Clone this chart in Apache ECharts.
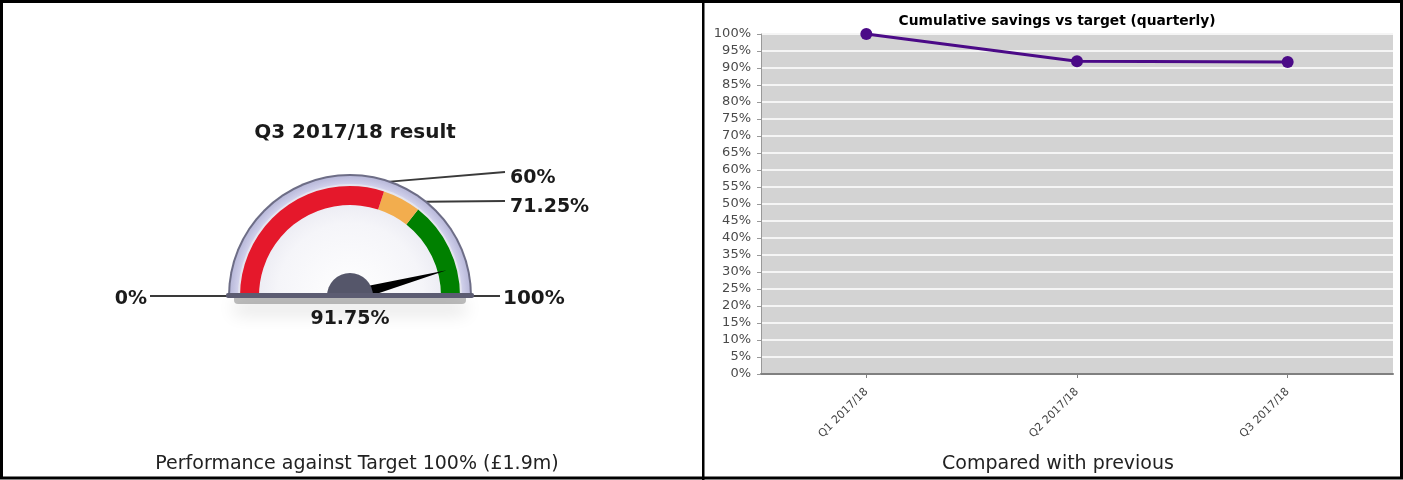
<!DOCTYPE html>
<html>
<head>
<meta charset="utf-8">
<script src="https://cdn.jsdelivr.net/npm/echarts@6/dist/echarts.min.js"></script>
<style>
  html, body { margin: 0; padding: 0; background: #fff; }
  #chart { width: 1403px; height: 480px; }
</style>
</head>
<body>
<div id="chart"></div>
<script>
// ---- data ----
const gaugeTitle = 'Q3 2017/18 result';
const gaugeMin = 0;
const gaugeMax = 100;
const gaugeValue = 91.75;
const bandStops = [60, 71.25, 100];
const bandColors = ['#e5182b', '#f2ad4e', '#008000'];
const gaugeCaption = 'Performance against Target 100% (£1.9m)';

const lineTitle = 'Cumulative savings vs target (quarterly)';
const categories = ['Q1 2017/18', 'Q2 2017/18', 'Q3 2017/18'];
const savings = [100, 92, 91.75];
const lineCaption = 'Compared with previous';

// ---- gauge geometry ----
const C = [350, 296];
const R_OUT = 122;

function pct(v) { return v + '%'; }

function arcPoint(v, r) {
  const a = Math.PI * (1 - (v - gaugeMin) / (gaugeMax - gaugeMin));
  return [C[0] + r * Math.cos(a), C[1] - r * Math.sin(a)];
}

function ring(radius, width, color, extra) {
  return Object.assign({
    type: 'gauge',
    center: C,
    radius: radius,
    startAngle: 180,
    endAngle: 0,
    min: gaugeMin,
    max: gaugeMax,
    axisLine: { show: true, lineStyle: { width: width, color: [[1, color]] } },
    axisTick: { show: false },
    splitLine: { show: false },
    axisLabel: { show: false },
    pointer: { show: false },
    anchor: { show: false },
    title: { show: false },
    detail: { show: false },
    data: [{ value: gaugeValue }]
  }, extra || {});
}

const faceGradient = new echarts.graphic.RadialGradient(0.5, 1, 1, [
  { offset: 0, color: '#ffffff' },
  { offset: 0.65, color: '#f5f5f9' },
  { offset: 1, color: '#e4e4ee' }
]);
const rimGradient = new echarts.graphic.RadialGradient(0.5, 1, 1, [
  { offset: 0.85, color: '#a9a9cf' },
  { offset: 0.93, color: '#d2d2ec' },
  { offset: 1, color: '#b9b9da' }
]);

const bandLine = bandStops.map((s, i) => [(s - gaugeMin) / (gaugeMax - gaugeMin), bandColors[i]]);

// leader lines and labels for thresholds
const labelFont = { fontFamily: 'DejaVu Sans', fontWeight: 'bold', fontSize: 19, fill: '#1a1a1a' };
const graphics = [];
const lineStyle = { stroke: '#3a3a3a', lineWidth: 2, fill: null };

// 0% and 100% ends
graphics.push({ type: 'polyline', shape: { points: [[150, C[1]], [C[0] - R_OUT, C[1]]] }, style: lineStyle });
graphics.push({ type: 'polyline', shape: { points: [[C[0] + R_OUT, C[1]], [500, C[1]]] }, style: lineStyle });
graphics.push({ type: 'text', x: 147, y: C[1] + 3, style: Object.assign({ text: pct(gaugeMin), textAlign: 'right', textVerticalAlign: 'middle' }, labelFont) });
graphics.push({ type: 'text', x: 503, y: C[1] + 3, style: Object.assign({ text: pct(gaugeMax), textAlign: 'left', textVerticalAlign: 'middle' }, labelFont, { fontSize: 20 }) });

// inner threshold stops
const stopLabelY = [172, 201];
bandStops.slice(0, 2).forEach((s, i) => {
  const p = arcPoint(s, R_OUT - 2);
  graphics.push({ type: 'polyline', shape: { points: [p, [505, stopLabelY[i]]] }, style: lineStyle });
  graphics.push({ type: 'text', x: 510, y: stopLabelY[i] + 6, style: Object.assign({ text: pct(s), textAlign: 'left', textVerticalAlign: 'middle' }, labelFont) });
});

// gauge base bar with soft drop shadow
graphics.push({
  type: 'rect', z: 1,
  shape: { x: C[0] - R_OUT + 6, y: C[1] - 2, width: 2 * R_OUT - 12, height: 10, r: 4 },
  style: { fill: 'rgba(0,0,0,0.25)', shadowBlur: 18, shadowColor: 'rgba(0,0,0,0.55)', shadowOffsetY: 9 }
});
graphics.push({
  type: 'rect', z: 10,
  shape: { x: C[0] - R_OUT - 2, y: C[1] - 3, width: 2 * R_OUT + 4, height: 5, r: 2 },
  style: { fill: '#5c5c72' }
});

// panel frames
graphics.push({ type: 'rect', z: 20, shape: { x: 1.5, y: 1.5, width: 1400, height: 476.5 }, style: { fill: null, stroke: '#000', lineWidth: 3 } });
graphics.push({ type: 'rect', z: 20, shape: { x: 702, y: 0, width: 2.5, height: 480 }, style: { fill: '#000' } });

const chart = echarts.init(document.getElementById('chart'), null, { renderer: 'canvas' });

const option = {
  animation: false,
  backgroundColor: '#ffffff',
  title: [
    { text: gaugeTitle, left: 350, top: 118, textAlign: 'center',
      textStyle: { fontFamily: 'DejaVu Sans', fontWeight: 'bold', fontSize: 20, color: '#1a1a1a' } },
    { text: lineTitle, left: 1052, top: 9, textAlign: 'center',
      textStyle: { fontFamily: 'DejaVu Sans', fontWeight: 'bold', fontSize: 13.8, color: '#000' } },
    { text: gaugeCaption, left: 352, top: 450, textAlign: 'center',
      textStyle: { fontFamily: 'DejaVu Sans', fontWeight: 'normal', fontSize: 19, color: '#222' } },
    { text: lineCaption, left: 1053, top: 450, textAlign: 'center',
      textStyle: { fontFamily: 'DejaVu Sans', fontWeight: 'normal', fontSize: 19, color: '#222' } }
  ],
  grid: { left: 761, right: 10, top: 34, bottom: 106, show: true, backgroundColor: '#d3d3d3', borderWidth: 0 },
  xAxis: {
    type: 'category',
    data: categories,
    boundaryGap: true,
    axisLine: { lineStyle: { color: '#808080', width: 2 } },
    axisTick: { show: true, alignWithLabel: true, length: 4, lineStyle: { color: '#808080' } },
    axisLabel: { rotate: 45, fontFamily: 'DejaVu Sans', fontSize: 11, color: '#444', margin: 16 }
  },
  yAxis: {
    type: 'value',
    min: 0, max: 100, interval: 5,
    axisLine: { show: true, lineStyle: { color: '#999' } },
    axisTick: { show: true, length: 4, lineStyle: { color: '#999' } },
    splitLine: { show: true, lineStyle: { color: '#f5f5f5', width: 2 } },
    axisLabel: { formatter: '{value}%', fontFamily: 'DejaVu Sans', fontSize: 13, color: '#4a4a4a', margin: 10 }
  },
  series: [
    {
      type: 'line',
      data: savings,
      symbol: 'circle',
      symbolSize: 12,
      lineStyle: { color: '#4b0a87', width: 3 },
      itemStyle: { color: '#4b0a87' },
      clip: true,
      z: 5
    },
    ring(R_OUT, R_OUT, '#6d6d86'),
    ring(R_OUT - 2, R_OUT - 2, rimGradient),
    ring(R_OUT - 10, R_OUT - 10, faceGradient),
    ring(R_OUT - 12, 19, null, {
      axisLine: { show: true, lineStyle: { width: 19, color: bandLine } },
      pointer: {
        show: true,
        icon: 'path://M5 0 L10 78 L5 100 L0 78 Z',
        length: 100,
        width: 10,
        itemStyle: { color: '#000' }
      }
    }),
    ring(23, 23, '#55566a', {
      detail: {
        show: true,
        offsetCenter: [0, 23],
        formatter: v => pct(v),
        fontFamily: 'DejaVu Sans',
        fontWeight: 'bold',
        fontSize: 19,
        color: '#1a1a1a'
      }
    })
  ],
  graphic: graphics
};

chart.setOption(option);
</script>
</body>
</html>
